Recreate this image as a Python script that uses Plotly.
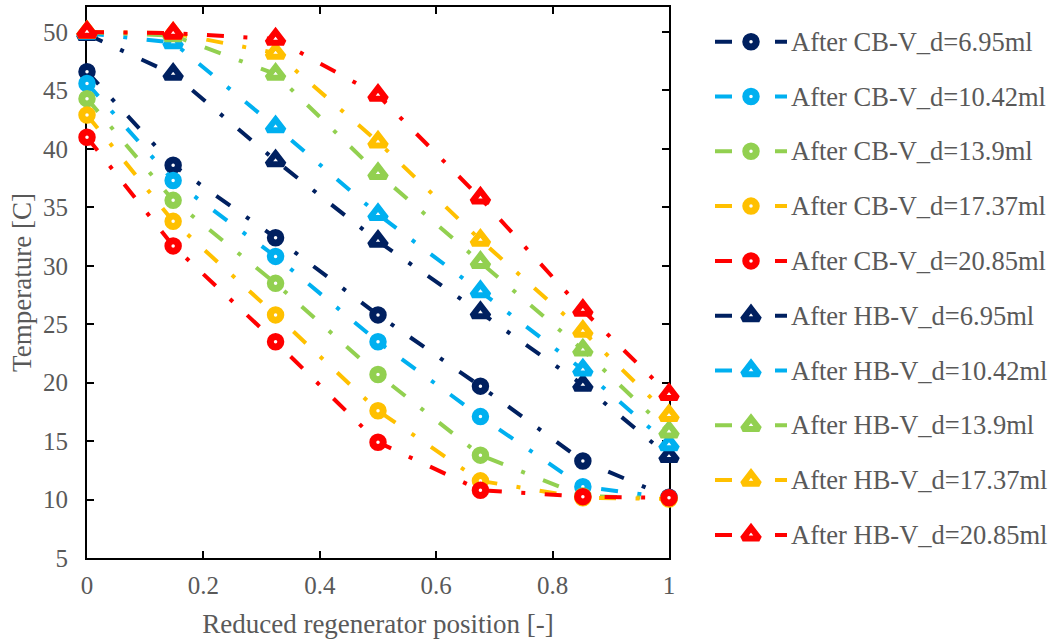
import plotly.graph_objects as go

# ---------------- data ----------------
x_pos = [0, 0.148, 0.324, 0.5, 0.676, 0.852, 1.0]

volumes = ["6.95", "10.42", "13.9", "17.37", "20.85"]
colors = ["#002060", "#00B0F0", "#92D050", "#FFC000", "#FF0000"]

cb_695 = [46.6, 38.6, 32.4, 25.8, 19.7, 13.3, 10.2]
cb_1042 = [45.6, 37.3, 30.8, 23.5, 17.1, 11.1, 10.15]
cb_139 = [44.3, 35.6, 28.5, 20.7, 13.8, 10.3, 10.1]
cb_1737 = [42.9, 33.8, 25.8, 17.6, 11.6, 10.15, 10.05]
cb_2085 = [41.0, 31.7, 23.5, 14.9, 10.8, 10.25, 10.15]

hb_695 = [49.8, 46.4, 39.0, 32.1, 26.0, 19.8, 13.7]
hb_1042 = [49.9, 49.1, 41.9, 34.4, 27.8, 21.1, 14.7]
hb_139 = [50.0, 49.7, 46.4, 37.9, 30.3, 22.8, 15.8]
hb_1737 = [50.0, 49.9, 48.2, 40.6, 32.2, 24.4, 17.2]
hb_2085 = [50.0, 49.9, 49.4, 44.6, 35.8, 26.2, 19.0]

cb_series = [cb_695, cb_1042, cb_139, cb_1737, cb_2085]
hb_series = [hb_695, hb_1042, hb_139, hb_1737, hb_2085]

x_ticks = [0, 0.2, 0.4, 0.6, 0.8, 1]
y_ticks = [5, 10, 15, 20, 25, 30, 35, 40, 45, 50]

# ---------------- styles ----------------
W, H = 1054, 641
FONT = "Liberation Serif"
TXT = "#595959"
DASH = "17px,19.5px,4px,19.5px"
LW = 4

entries = []
for i, v in enumerate(volumes):
    entries.append(("After CB-V_d=" + v + "ml", cb_series[i], colors[i], "circle", 10.5, 7))
for i, v in enumerate(volumes):
    entries.append(("After HB-V_d=" + v + "ml", hb_series[i], colors[i], "triangle-up", 14.5, 6))

fig = go.Figure()

for name, ys, col, sym, msz, mlw in entries:
    fig.add_trace(go.Scatter(
        x=x_pos, y=ys, name=name, mode="lines+markers",
        line=dict(color=col, width=LW, dash=DASH),
        marker=dict(symbol=sym, size=msz, color="white",
                    line=dict(color=col, width=mlw)),
        cliponaxis=False, showlegend=False,
        xaxis="x", yaxis="y"))

# ---------------- custom legend (drawn on its own hidden axes) ----------------
leg_top_px, leg_step_px = 41.7, 54.8
for k, (name, ys, col, sym, msz, mlw) in enumerate(entries):
    fig.add_trace(go.Scatter(
        x=[0, 1], y=[k, k], mode="lines",
        line=dict(color=col, width=LW, dash=DASH),
        cliponaxis=False, showlegend=False, hoverinfo="skip",
        xaxis="x2", yaxis="y2"))
    fig.add_trace(go.Scatter(
        x=[0.5], y=[k], mode="markers",
        marker=dict(symbol=sym, size=msz, color="white",
                    line=dict(color=col, width=mlw)),
        cliponaxis=False, showlegend=False, hoverinfo="skip",
        xaxis="x2", yaxis="y2"))
    fig.add_annotation(
        x=789 / W, xref="paper", y=k, yref="y2",
        text=name, showarrow=False, xanchor="left", yanchor="middle",
        font=dict(family=FONT, size=26.5, color=TXT))

# plot area in pixels
PL, PR, PT, PB = 87, 669, 7, 558

axis_common = dict(
    showline=True, linewidth=2, linecolor="black", mirror="ticks",
    ticks="inside", ticklen=7, tickwidth=2, tickcolor="black",
    showgrid=False, zeroline=False, layer="below traces",
    tickfont=dict(family=FONT, size=25, color=TXT),
)

fig.update_layout(
    width=W, height=H,
    margin=dict(l=0, r=0, t=0, b=0),
    paper_bgcolor="white", plot_bgcolor="white",
    showlegend=False,
    xaxis=dict(
        domain=[PL / W, PR / W], range=[0, 1],
        tickvals=x_ticks, ticktext=[f"{t:g}" for t in x_ticks],
        ticklabelstandoff=4,
        title=dict(text="Reduced regenerator position [-]",
                   font=dict(family=FONT, size=27, color=TXT), standoff=16),
        automargin=False,
        **axis_common),
    yaxis=dict(
        domain=[1 - PB / H, 1 - PT / H], range=[5, 52.14],
        tickvals=y_ticks,
        ticklabelstandoff=12,
        title=dict(text="Temperature [C]",
                   font=dict(family=FONT, size=27, color=TXT), standoff=4),
        automargin=False,
        **axis_common),
    xaxis2=dict(domain=[715 / W, 787 / W], range=[0, 1], visible=False,
                anchor="y2"),
    yaxis2=dict(domain=[0, 1],
                range=[(H - leg_top_px) / leg_step_px, -leg_top_px / leg_step_px],
                visible=False, anchor="x2"),
)

fig.write_html("out.html")
